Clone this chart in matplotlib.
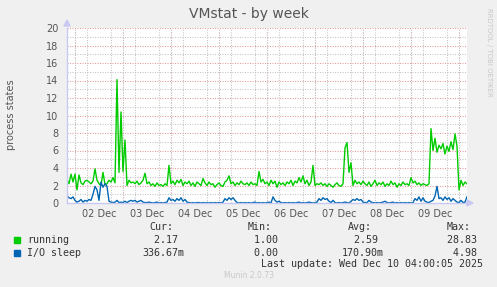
import matplotlib
matplotlib.use("Agg")
import matplotlib.pyplot as plt
import matplotlib.dates as mdates
import pandas as pd

# hourly samples, Dec 1 20:00 -> Dec 10 04:00
start = "2025-12-01 20:00"
running = [
    2.7, 2.2, 3.3, 2.4, 3.3, 1.5, 3.2, 2.3, 2.1, 2.5,
    2.6, 2.4, 2.2, 2.5, 3.9, 2.6, 2.2, 2.0, 3.5, 2.1,
    2.2, 2.6, 2.4, 2.9, 2.3, 14.1, 3.5, 10.4, 3.6, 7.2,
    2.0, 2.6, 2.3, 2.4, 2.2, 2.5, 2.1, 2.3, 2.6, 3.4,
    2.2, 2.4, 2.0, 2.2, 1.9, 2.3, 2.0, 2.1, 1.9, 2.2,
    2.0, 4.3, 2.2, 2.5, 2.1, 2.6, 2.3, 2.7, 2.0, 2.4,
    2.2, 2.5, 2.0, 2.3, 1.9, 2.4, 2.2, 2.0, 2.8, 2.3,
    2.0, 2.4, 2.1, 2.2, 1.8, 2.1, 2.3, 2.0, 1.9, 2.4,
    2.6, 3.1, 2.2, 2.4, 2.0, 2.3, 2.1, 2.5, 2.2, 2.1,
    2.3, 2.0, 2.4, 2.1, 2.2, 2.0, 3.6, 2.4, 2.7, 2.2,
    2.4, 2.0, 2.6, 2.2, 2.5, 1.8, 2.4, 2.1, 2.3, 2.0,
    2.4, 2.2, 2.6, 2.0, 2.5, 2.3, 2.9, 2.4, 3.1, 2.2,
    2.6, 2.0, 2.4, 4.3, 2.0, 2.2, 2.1, 2.3, 2.0, 2.2,
    1.9, 2.2, 2.0, 1.8, 2.1, 2.3, 2.0, 1.9, 2.2, 6.3,
    6.9, 3.5, 4.6, 2.0, 2.6, 2.2, 2.4, 2.1, 2.5, 2.2,
    2.0, 2.4, 1.9, 2.2, 2.6, 2.0, 2.3, 2.1, 2.4, 1.9,
    2.2, 2.0, 2.5, 2.1, 2.3, 1.8, 2.2, 2.0, 2.4, 2.1,
    2.2, 2.0, 2.9, 2.3, 2.5, 2.1, 2.3, 2.0, 2.2, 2.1,
    2.0, 2.2, 8.5, 6.0, 7.4, 5.8, 6.6, 6.2, 6.8, 5.6,
    6.5, 5.9, 7.0, 6.1, 7.9, 6.5, 1.5, 2.6, 2.0, 2.4,
    2.2,
]
io_sleep = [
    0.8, 0.6, 0.5, 0.7, 0.3, 0.1, 0.2, 0.4, 0.1, 0.3,
    0.2, 0.4, 0.3, 1.0, 1.9, 1.5, 0.3, 2.4, 1.8, 2.2,
    1.9, 0.2, 0.1, 0.05, 0.1, 0.3, 0.05, 0.1, 0.05, 0.2,
    0.05, 0.2, 0.3, 0.2, 0.3, 0.1, 0.2, 0.3, 0.1, 0.05,
    0.05, 0.1, 0.05, 0.0, 0.05, 0.1, 0.0, 0.05, 0.0, 0.05,
    0.1, 0.6, 0.3, 0.4, 0.2, 0.5, 0.3, 0.6, 0.2, 0.4,
    0.1, 0.05, 0.0, 0.05, 0.0, 0.05, 0.05, 0.0, 0.05, 0.0,
    0.05, 0.0, 0.05, 0.0, 0.05, 0.0, 0.05, 0.0, 0.1, 0.5,
    0.3, 0.6, 0.4, 0.6, 0.3, 0.05, 0.0, 0.05, 0.0, 0.05,
    0.0, 0.05, 0.0, 0.05, 0.1, 0.0, 0.05, 0.0, 0.05, 0.0,
    0.05, 0.1, 0.0, 0.7, 0.3, 0.1, 0.2, 0.05, 0.0, 0.05,
    0.0, 0.05, 0.0, 0.05, 0.0, 0.05, 0.1, 0.0, 0.05, 0.0,
    0.05, 0.1, 0.05, 0.0, 0.05, 0.1, 0.5, 0.3, 0.6, 0.4,
    0.5, 0.2, 0.05, 0.3, 0.05, 0.0, 0.05, 0.0, 0.05, 0.1,
    0.05, 0.0, 0.2, 0.4, 0.3, 0.5, 0.3, 0.4, 0.1, 0.05,
    0.05, 0.3, 0.1, 0.05, 0.0, 0.05, 0.0, 0.05, 0.1, 0.2,
    0.05, 0.0, 0.05, 0.1, 0.0, 0.05, 0.0, 0.05, 0.0, 0.05,
    0.0, 0.05, 0.0, 0.05, 0.5, 0.3, 0.7, 0.2, 0.6, 0.2,
    0.1, 0.05, 0.2, 0.3, 0.8, 1.9, 0.5, 0.6, 0.3, 0.7,
    0.4, 0.6, 0.2, 0.5, 0.3, 0.1, 0.05, 0.3, 0.05, 0.1,
    0.7,
]
series_names = ["running", "I/O sleep"]
series_colors = ["#00CC00", "#0066B3"]
stats_cur = ["2.17 ", "336.67m"]
stats_min = ["1.00 ", "0.00 "]
stats_avg = ["2.59 ", "170.90m"]
stats_max = ["28.83 ", "4.98 "]

times = pd.date_range(start=start, periods=len(running), freq="h")

W, H = 497, 287
fig = plt.figure(figsize=(W / 100, H / 100), dpi=100, facecolor="#F0F0F0")
ax = fig.add_axes([67 / W, 1 - 203 / H, 400 / W, 175 / H], facecolor="white")

ax.plot(times, running, color=series_colors[0], lw=1.0)
ax.plot(times, io_sleep, color=series_colors[1], lw=1.0)

ax.set_xlim(times[0], times[-1])
ax.set_ylim(0, 20)

# grid: grey every 6h / 1 unit, red every day / 2 units
grey = dict(color="#c4c4c4", lw=0.75, ls=(0, (1, 1.4)))
red = dict(color="#e69a9a", lw=0.75, ls=(0, (1, 1.4)))
ax.xaxis.set_minor_locator(mdates.HourLocator(byhour=[0, 6, 12, 18]))
ax.xaxis.set_major_locator(mdates.HourLocator(byhour=[12]))
ax.xaxis.set_major_formatter(mdates.DateFormatter("%d %b"))
ax.set_yticks(range(0, 21, 2))
ax.set_yticks(range(0, 21, 1), minor=True)
ax.grid(which="minor", axis="both", **grey)
for y in range(2, 21, 2):
    ax.axhline(y, zorder=0.5, **red)
for d in pd.date_range("2025-12-02", "2025-12-10", freq="D"):
    ax.axvline(d, zorder=0.5, **red)
ax.set_axisbelow(True)

ax.tick_params(which="both", length=0, labelsize=7, colors="#555555")
ax.tick_params(axis="y", pad=6)
ax.tick_params(axis="x", pad=4)
for s in ["top", "right"]:
    ax.spines[s].set_visible(False)
for s in ["left", "bottom"]:
    ax.spines[s].set_color("#c8c8f0")
    ax.spines[s].set_linewidth(1)

# axis arrows
fig.patches.append(plt.Polygon([[64 / W, 1 - 26 / H], [70 / W, 1 - 26 / H], [67 / W, 1 - 20 / H]],
                               closed=True, color="#c8c8f0", transform=fig.transFigure))
fig.patches.append(plt.Polygon([[467 / W, 1 - 200 / H], [467 / W, 1 - 206 / H], [473 / W, 1 - 203 / H]],
                               closed=True, color="#c8c8f0", transform=fig.transFigure))

fig.text(0.5, 1 - 14 / H, "VMstat - by week", ha="center", va="center", fontsize=10, color="#555555")
fig.text(11 / W, 1 - 115 / H, "process states", rotation=90, ha="center", va="center",
         fontsize=7, color="#555555")
fig.text(489 / W, 1 - 8 / H, "RRDTOOL / TOBI OETIKER", rotation=270, ha="center", va="top",
         fontsize=5, color="#c8c8c8")

# legend block
mono = dict(family="DejaVu Sans Mono", fontsize=7.2, color="#333333")
col_right = [178, 278, 378, 477]
for x, head in zip([173, 272, 372, 471], ["Cur:", "Min:", "Avg:", "Max:"]):
    fig.text(x / W, 1 - 227 / H, head, ha="right", va="center", **mono)
for i, name in enumerate(series_names):
    yy = 240 + 12.5 * i
    fig.patches.append(plt.Rectangle((14 / W, 1 - (yy + 3) / H), 6 / W, 6 / H,
                                     color=series_colors[i], transform=fig.transFigure))
    fig.text(27 / W, 1 - yy / H, name, ha="left", va="center", **mono)
    for x, vals in zip(col_right, [stats_cur, stats_min, stats_avg, stats_max]):
        fig.text((x + 6) / W, 1 - yy / H, vals[i], ha="right", va="center", **mono)
fig.text(483 / W, 1 - 264 / H, "Last update: Wed Dec 10 04:00:05 2025", ha="right", va="center", **mono)
fig.text(0.5, 1 - 276 / H, "Munin 2.0.73", ha="center", va="center", fontsize=5.5, color="#c8c8c8")

fig.savefig("out.png", dpi=100, facecolor=fig.get_facecolor())
